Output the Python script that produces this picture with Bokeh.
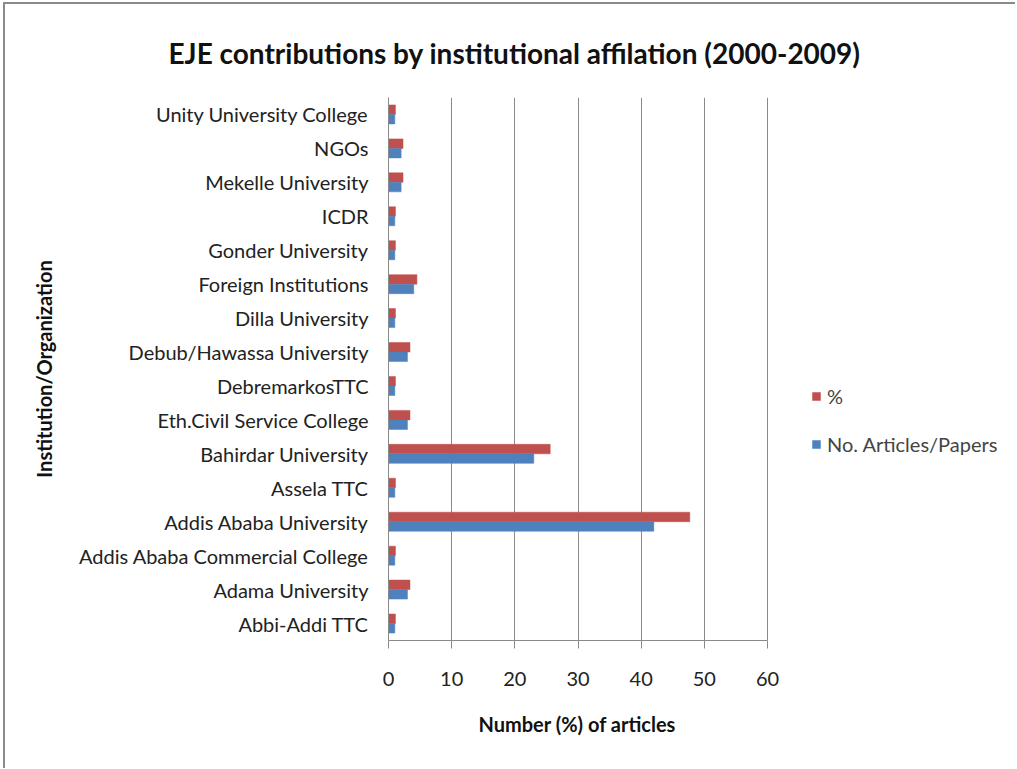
from bokeh.plotting import figure
from bokeh.models import ColumnDataSource, Legend, LegendItem, FactorRange, Title
from bokeh.transform import dodge
from bokeh.embed import file_html
from bokeh.resources import INLINE

institutions = [
    "Abbi-Addi TTC", "Adama University", "Addis Ababa Commercial College",
    "Addis Ababa University", "Assela TTC", "Bahirdar University",
    "Eth.Civil Service College", "DebremarkosTTC", "Debub/Hawassa University",
    "Dilla University", "Foreign Institutions", "Gonder University", "ICDR",
    "Mekelle University", "NGOs", "Unity University College",
]
no_articles = [1, 3, 1, 42, 1, 23, 3, 1, 3, 1, 4, 1, 1, 2, 2, 1]
percent = [1.1, 3.4, 1.1, 47.7, 1.1, 25.6, 3.4, 1.1, 3.4, 1.1, 4.5, 1.1, 1.1, 2.3, 2.3, 1.1]
x_ticks = [0, 10, 20, 30, 40, 50, 60]

FONT = "Lato"
RED = "#C0504D"
BLUE = "#4F81BD"
src = ColumnDataSource(dict(inst=institutions, n=no_articles, pct=percent))

W, H = 1012, 766
LEFT = 383
AXIS_PX = 379  # pixel length of the 0-60 axis
x_end = x_ticks[-1] * (W - LEFT) / AXIS_PX  # frame extends right to leave room for the legend

p = figure(
    width=W, height=H, output_backend="svg", toolbar_location=None,
    y_range=FactorRange(*institutions, range_padding=0), x_range=(0, x_end),
    min_border_left=LEFT, min_border_right=0, min_border_top=93, min_border_bottom=130,
    outline_line_color=None,
    styles={"border-left": "2px solid #8a8a8a", "border-top": "2px solid #8a8a8a",
            "margin-left": "3px", "margin-top": "2px"},
)

r_pct = p.hbar(y=dodge("inst", 0.14, range=p.y_range), right="pct", left=0, height=0.28,
               source=src, fill_color=RED, line_color=RED, line_alpha=0.5)
r_n = p.hbar(y=dodge("inst", -0.14, range=p.y_range), right="n", left=0, height=0.28,
             source=src, fill_color=BLUE, line_color=BLUE, line_alpha=0.5)

p.title.text = "EJE contributions by institutional affilation  (2000-2009)"
p.title.text_font = FONT
p.title.text_font_size = "28px"
p.title.text_font_style = "bold"
p.title.text_color = "#111111"
p.title.align = "left"
p.title.offset = -220
p.title.standoff = 56

p.xaxis.ticker = x_ticks
p.xaxis.bounds = (x_ticks[0], x_ticks[-1])
p.yaxis.axis_label = "Institution/Organization"
for ax in (p.xaxis, p.yaxis):
    ax.axis_label_text_font = FONT
    ax.axis_label_text_font_style = "bold"
    ax.axis_label_text_font_size = "20px"
    ax.axis_label_text_color = "#111111"
    ax.major_label_text_font = FONT
    ax.major_label_text_color = "#222222"
    ax.axis_line_color = "#8a8a8a"
    ax.major_tick_line_color = "#8a8a8a"
    ax.minor_tick_line_color = None
p.xaxis.major_label_text_font_size = "20px"
p.xaxis.major_tick_in = 0
p.xaxis.major_tick_out = 8
p.xaxis.major_label_standoff = 23
p.yaxis.major_label_text_font_size = "20px"
p.yaxis.major_tick_out = 0
p.yaxis.major_tick_in = 0
p.yaxis.major_label_standoff = 20
p.yaxis.axis_label_standoff = 20

# x-axis title, centred under the 0-60 axis rather than the wider frame
x_title = Title(text="Number (%) of articles", align="left", offset=90, standoff=43,
                text_font=FONT, text_font_size="20px", text_font_style="bold",
                text_color="#111111")
p.add_layout(x_title, "below")

p.xgrid.grid_line_color = "#8a8a8a"
p.xgrid.grid_line_width = 1
p.ygrid.grid_line_color = None

legend = Legend(
    items=[LegendItem(label="%", renderers=[r_pct]),
           LegendItem(label="No. Articles/Papers", renderers=[r_n])],
    location=(423, 184), label_text_font=FONT, label_text_font_size="20px",
    glyph_width=10, glyph_height=10, spacing=24, label_standoff=6, label_height=22,
    border_line_color=None, background_fill_alpha=0,
)
p.add_layout(legend, "center")

open("out.html", "w").write(file_html(p, INLINE))
